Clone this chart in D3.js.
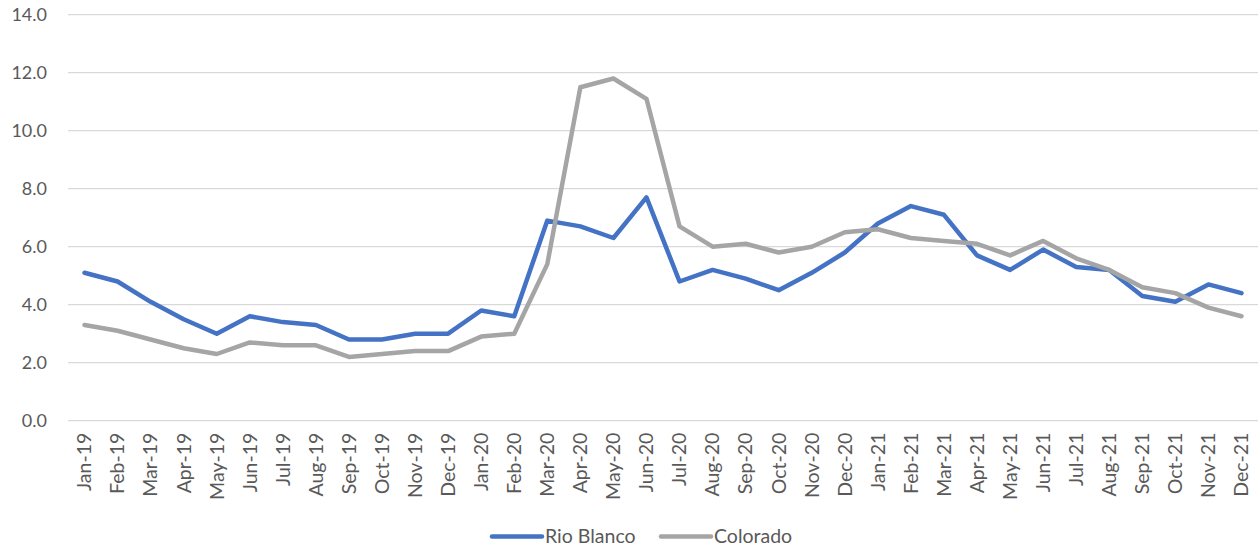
<!DOCTYPE html>
<html><head><meta charset="utf-8">
<script src="https://cdn.jsdelivr.net/npm/d3@7"></script>
<style>body{margin:0;background:#fff;}svg{display:block;font-family:Lato,"Open Sans",sans-serif;}</style>
</head><body>
<svg id="c" width="1260" height="550"></svg>
<script>
const months = ["Jan-19","Feb-19","Mar-19","Apr-19","May-19","Jun-19","Jul-19","Aug-19","Sep-19","Oct-19","Nov-19","Dec-19",
"Jan-20","Feb-20","Mar-20","Apr-20","May-20","Jun-20","Jul-20","Aug-20","Sep-20","Oct-20","Nov-20","Dec-20",
"Jan-21","Feb-21","Mar-21","Apr-21","May-21","Jun-21","Jul-21","Aug-21","Sep-21","Oct-21","Nov-21","Dec-21"];
const rioBlanco = [5.1,4.8,4.1,3.5,3.0,3.6,3.4,3.3,2.8,2.8,3.0,3.0,3.8,3.6,6.9,6.7,6.3,7.7,4.8,5.2,4.9,4.5,5.1,5.8,6.8,7.4,7.1,5.7,5.2,5.9,5.3,5.2,4.3,4.1,4.7,4.4];
const colorado = [3.3,3.1,2.8,2.5,2.3,2.7,2.6,2.6,2.2,2.3,2.4,2.4,2.9,3.0,5.4,11.5,11.8,11.1,6.7,6.0,6.1,5.8,6.0,6.5,6.6,6.3,6.2,6.1,5.7,6.2,5.6,5.2,4.6,4.4,3.9,3.6];
const yTicks = [0,2,4,6,8,10,12,14];
const seriesNames = ["Rio Blanco","Colorado"];
const colors = ["#4472C4","#A5A5A5"];

const svg = d3.select("#c");
const L = 68, R = 1258, T = 14.7, B = 420.7;
const x = d3.scaleBand().domain(months).range([L, R]);
const y = d3.scaleLinear().domain([0,14]).range([B, T]);

// gridlines
svg.append("g").selectAll("line").data(yTicks).join("line")
  .attr("x1", L).attr("x2", R)
  .attr("y1", d=>y(d)).attr("y2", d=>y(d))
  .attr("stroke", "#d9d9d9").attr("stroke-width", 1.3);

// y axis
const ya = svg.append("g").attr("transform", `translate(${L},0)`)
  .call(d3.axisLeft(y).tickValues(yTicks).tickFormat(d3.format(".1f")).tickSize(0).tickPadding(21));
ya.select(".domain").remove();
ya.selectAll("text").attr("fill","#595959").style("font-size","18px").style("font-family","Lato");

// x axis
const xa = svg.append("g").attr("transform", `translate(0,${B})`)
  .call(d3.axisBottom(x).tickSize(0).tickPadding(0));
xa.select(".domain").remove();
xa.selectAll("text")
  .attr("fill","#595959").style("font-size","19.5px").style("font-family","Lato")
  .attr("transform","rotate(-90)")
  .attr("x", -12).attr("y", 0).attr("dy","0.35em")
  .attr("text-anchor","end");

// lines
const line = d3.line().x((d,i)=>x(months[i]) + x.bandwidth()/2).y(d=>y(d));
[rioBlanco, colorado].forEach((s,k)=>{
  svg.append("path").datum(s).attr("d", line)
    .attr("fill","none").attr("stroke", colors[k]).attr("stroke-width", 4.5)
    .attr("stroke-linejoin","round").attr("stroke-linecap","round");
});

// legend
const leg = svg.append("g");
const legX = [492, 661];
seriesNames.forEach((n,k)=>{
  leg.append("line").attr("x1", legX[k]).attr("x2", legX[k]+50).attr("y1", 536.5).attr("y2", 536.5)
    .attr("stroke", colors[k]).attr("stroke-width", 4.5).attr("stroke-linecap","round");
  leg.append("text").attr("x", legX[k]+53).attr("y", 536.5).attr("dy","0.35em")
    .attr("fill","#595959").style("font-size","19.5px").style("font-family","Lato").text(n);
});
</script>
</body></html>
